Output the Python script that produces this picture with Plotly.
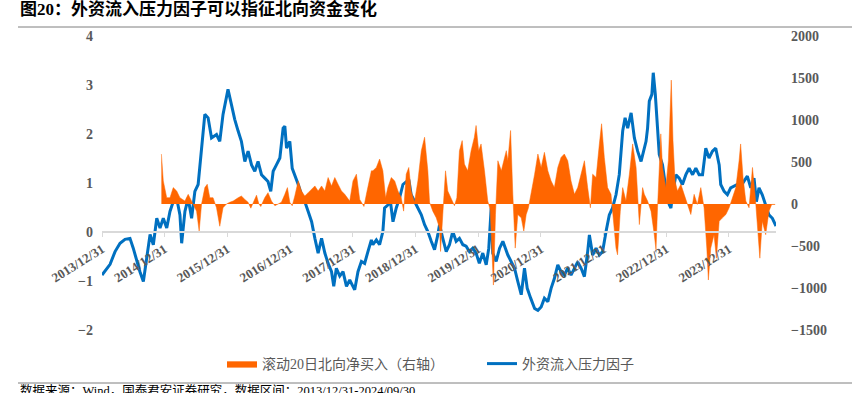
import plotly.graph_objects as go

# ---------------- data ----------------
factor_dates = [
    "2013-12-31", "2014-01-08", "2014-02-16", "2014-03-17", "2014-04-15", "2014-05-14", "2014-06-12", "2014-07-01", "2014-07-21", "2014-08-09", "2014-08-29", "2014-09-17", "2014-10-07", "2014-10-26", "2014-11-15", "2014-12-04", "2014-12-23",
    "2015-01-12", "2015-01-31", "2015-02-19", "2015-03-11", "2015-03-30", "2015-04-09", "2015-04-28", "2015-05-17", "2015-06-06", "2015-06-25", "2015-07-14", "2015-08-03", "2015-08-22", "2015-09-10", "2015-09-30", "2015-10-29", "2015-11-17", "2015-12-06", "2015-12-26",
    "2016-01-04", "2016-01-24", "2016-02-12", "2016-03-03", "2016-03-22", "2016-04-11", "2016-04-30", "2016-05-20", "2016-06-08", "2016-06-27", "2016-07-17", "2016-08-05", "2016-08-24", "2016-09-09", "2016-09-23", "2016-10-12", "2016-11-01", "2016-11-20", "2016-11-30", "2016-12-10", "2016-12-29",
    "2017-01-12", "2017-01-27", "2017-02-16", "2017-03-07", "2017-03-26", "2017-04-15", "2017-05-05", "2017-05-24", "2017-06-12", "2017-07-02", "2017-07-21", "2017-08-09", "2017-08-29", "2017-09-11", "2017-09-26", "2017-10-16", "2017-11-04", "2017-11-24", "2017-12-13",
    "2018-01-11", "2018-01-30", "2018-02-19", "2018-03-10", "2018-03-29", "2018-04-18", "2018-04-27", "2018-05-17", "2018-06-05", "2018-06-24", "2018-07-04", "2018-07-23", "2018-08-02", "2018-08-22", "2018-09-10", "2018-09-29", "2018-10-19", "2018-11-07", "2018-11-22", "2018-12-06", "2018-12-25",
    "2019-01-14", "2019-02-03", "2019-02-22", "2019-03-13", "2019-04-02", "2019-04-21", "2019-05-10", "2019-05-20", "2019-06-08", "2019-06-28", "2019-07-17", "2019-08-05", "2019-08-25", "2019-09-13", "2019-10-03", "2019-10-22", "2019-11-10", "2019-11-30", "2019-12-19",
    "2020-01-07", "2020-01-27", "2020-02-16", "2020-03-02", "2020-03-16", "2020-03-25", "2020-04-14", "2020-05-04", "2020-05-23", "2020-06-21", "2020-07-11", "2020-07-30", "2020-08-18", "2020-09-07", "2020-09-26", "2020-10-12", "2020-11-01", "2020-11-24", "2020-12-13",
    "2021-01-01", "2021-01-20", "2021-02-09", "2021-02-28", "2021-03-19", "2021-04-08", "2021-04-27", "2021-05-16", "2021-06-05", "2021-06-24", "2021-07-14", "2021-08-02", "2021-08-22", "2021-09-10", "2021-09-29", "2021-10-09", "2021-10-28", "2021-11-17", "2021-12-06", "2021-12-25",
    "2022-01-14", "2022-02-02", "2022-02-21", "2022-03-13", "2022-04-01", "2022-04-21", "2022-05-05", "2022-05-20", "2022-06-09", "2022-06-28", "2022-07-17", "2022-08-06", "2022-09-04", "2022-09-13", "2022-09-23", "2022-10-08", "2022-10-16", "2022-10-28", "2022-11-10", "2022-11-20", "2022-12-09", "2022-12-28",
    "2023-01-17", "2023-01-27", "2023-02-05", "2023-02-25", "2023-03-16", "2023-04-04", "2023-04-24", "2023-05-13", "2023-06-02", "2023-06-21", "2023-07-10", "2023-07-30", "2023-08-18", "2023-09-06", "2023-09-26", "2023-10-15", "2023-11-04", "2023-11-13", "2023-12-03", "2023-12-22",
    "2024-01-10", "2024-01-30", "2024-02-18", "2024-03-08", "2024-03-28", "2024-04-16", "2024-05-06", "2024-05-25", "2024-06-08", "2024-06-23", "2024-07-12", "2024-08-01", "2024-08-20", "2024-09-09", "2024-09-30",
]
factor_values = [
    -0.88, -0.84, -0.66, -0.40, -0.23, -0.15, -0.13, -0.33, -0.60, -0.81, -1.01, -0.54, -0.05, -0.26, 0.28, 0.08, 0.28,
    0.08, 0.42, 0.62, 0.69, 0.35, -0.23, 0.42, 0.69, 0.28, 0.83, 0.97, 1.65, 2.40, 2.33, 1.92, 1.99, 1.85, 2.40, 2.74,
    2.91, 2.60, 2.30, 2.06, 1.85, 1.44, 1.65, 1.37, 1.24, 1.44, 1.17, 1.10, 1.03, 0.83, 1.24, 1.37, 1.51, 2.12, 2.16, 1.71, 1.85,
    1.30, 1.17, 0.97, 0.76, 0.62, 0.42, 0.21, -0.13, -0.43, -0.13, -0.43, -0.64, -0.81, -1.11, -0.74, -0.90, -0.81, -1.11, -0.98,
    -1.18, -0.81, -0.60, -0.64, -0.40, -0.16, -0.26, -0.16, -0.26, 0.01, 0.49, 0.55, 0.76, 0.21, 0.49, 0.69, 0.97, 1.03, 1.07, 0.76, 0.62,
    0.49, 0.35, 0.15, 0.01, -0.19, -0.36, -0.06, 0.15, -0.13, -0.40, -0.26, 0.01, -0.19, -0.13, -0.26, -0.29, -0.40, -0.33, -0.43,
    -0.64, -0.43, -0.67, -0.33, 0.49, -0.43, -0.60, -0.33, -0.19, -0.47, -0.61, -0.74, -1.01, -1.28, -0.74, -1.15, -1.35, -1.56, -1.60,
    -1.53, -1.35, -1.42, -1.15, -0.95, -0.67, -0.81, -0.88, -0.74, -0.88, -0.74, -0.61, -0.74, -0.91, -0.40, -0.06, -0.47, -0.33, -0.47, -0.40,
    0.01, 0.35, 0.49, 0.76, 1.17, 2.06, 2.33, 2.12, 2.43, 1.92, 1.65, 1.44, 1.85, 2.12, 2.67, 2.81, 3.25, 2.81, 2.12, 1.58, 1.37, 0.90,
    0.56, 0.49, 0.76, 1.17, 1.10, 0.97, 1.17, 1.30, 1.17, 1.30, 1.17, 1.17, 1.71, 1.51, 1.65, 1.71, 1.37, 0.97, 0.83, 0.76,
    0.90, 0.93, 0.97, 0.93, 1.03, 1.14, 0.90, 1.10, 0.62, 0.90, 0.76, 0.56, 0.35, 0.28, 0.12,
]

northbound_dates = [
    "2014-12-12", "2014-12-23",
    "2015-01-12", "2015-01-31", "2015-02-19", "2015-03-11", "2015-03-30", "2015-04-28", "2015-05-17", "2015-06-06", "2015-07-05", "2015-07-20", "2015-08-03", "2015-08-22", "2015-09-05", "2015-09-20", "2015-10-09", "2015-10-29", "2015-11-17", "2015-12-06", "2015-12-26",
    "2016-01-14", "2016-02-03", "2016-03-03", "2016-03-22", "2016-04-11", "2016-04-30", "2016-05-16", "2016-05-30", "2016-06-18", "2016-07-02", "2016-07-13", "2016-08-05", "2016-08-24", "2016-09-13", "2016-10-03", "2016-10-22", "2016-11-10", "2016-11-30", "2016-12-15", "2016-12-29",
    "2017-01-12", "2017-01-27", "2017-02-16", "2017-03-07", "2017-03-26", "2017-04-15", "2017-05-24", "2017-06-12", "2017-07-02", "2017-07-21", "2017-08-09", "2017-08-29", "2017-09-17", "2017-10-06", "2017-10-26", "2017-11-14", "2017-12-13",
    "2018-01-01", "2018-01-21", "2018-02-09", "2018-03-06", "2018-03-20", "2018-04-18", "2018-04-27", "2018-05-17", "2018-06-05", "2018-06-24", "2018-07-10", "2018-07-23", "2018-08-12", "2018-09-01", "2018-09-20", "2018-10-09", "2018-10-23", "2018-11-07", "2018-11-22", "2018-12-06", "2018-12-25",
    "2019-01-14", "2019-02-03", "2019-02-22", "2019-03-13", "2019-03-23", "2019-04-11", "2019-05-01", "2019-05-20", "2019-05-26", "2019-06-08", "2019-06-24", "2019-07-07", "2019-07-27", "2019-08-15", "2019-08-29", "2019-09-13", "2019-09-29", "2019-10-12", "2019-10-31", "2019-11-20", "2019-12-09", "2019-12-19",
    "2020-01-03", "2020-01-17", "2020-02-06", "2020-02-25", "2020-03-10", "2020-03-22", "2020-03-29", "2020-04-10", "2020-04-24", "2020-05-14", "2020-06-12", "2020-06-21", "2020-07-07", "2020-07-20", "2020-08-03", "2020-08-18", "2020-09-07", "2020-09-22", "2020-10-06", "2020-10-19", "2020-11-04", "2020-11-24", "2020-12-13",
    "2021-01-01", "2021-01-20", "2021-02-09", "2021-02-28", "2021-03-19", "2021-04-08", "2021-04-27", "2021-05-16", "2021-06-05", "2021-06-24", "2021-07-14", "2021-08-02", "2021-08-22", "2021-09-10", "2021-09-29", "2021-10-15", "2021-10-28", "2021-11-17", "2021-12-06", "2021-12-19",
    "2022-01-04", "2022-01-23", "2022-02-12", "2022-02-27", "2022-03-13", "2022-03-22", "2022-04-07", "2022-04-21", "2022-05-10", "2022-05-30", "2022-06-18", "2022-07-08", "2022-07-27", "2022-08-15", "2022-08-25", "2022-09-13", "2022-10-03", "2022-10-22", "2022-11-01", "2022-11-10", "2022-11-20", "2022-11-29", "2022-12-09", "2022-12-28",
    "2023-01-12", "2023-01-22", "2023-01-29", "2023-02-08", "2023-02-20", "2023-03-06", "2023-03-26", "2023-04-14", "2023-05-03", "2023-05-23", "2023-06-11", "2023-06-30", "2023-07-20", "2023-08-08", "2023-08-24", "2023-09-02", "2023-09-16", "2023-10-05", "2023-10-19", "2023-11-04", "2023-11-23", "2023-12-13",
    "2024-01-01", "2024-01-20", "2024-02-09", "2024-02-28", "2024-03-08", "2024-03-22", "2024-04-07", "2024-04-26", "2024-05-16", "2024-05-31", "2024-06-14", "2024-06-28", "2024-07-12", "2024-08-01", "2024-08-20", "2024-09-05", "2024-09-25",
]
northbound_values = [
    595, 275,
    75, 75, 195, 155, 75, 35, 115, 35, -85, -325, 0, 195, 235, 75, 75, -45, -265, -45, 0,
    20, 35, 75, 95, 55, 20, -50, 20, 105, 0, -30, 75, 135, 35, -20, 0, 20, 115, 195, 20,
    -20, 95, 275, 155, 95, 135, 215, 155, 215, 155, 315, 215, 315, 235, 155, 115, 35,
    275, 355, 55, -30, 115, 395, 395, 435, 535, 395, 75, 195, 315, 275, 155, 75, -85, 355, 435, 155, 20,
    275, 635, 795, 395, 20, -85, -165, -285, -565, -125, 395, 155, 75, -20, 75, 635, 755, 475, 395, 635, 795, 935,
    635, 715, 395, 35, -65, -645, -965, -125, 515, 395, 635, 515, 875, 115, -525, -125, -165, -325, -125, -45, 115, 355, 595,
    435, 615, 395, 275, 195, 435, 555, 595, 515, 275, 115, 195, 355, 515, 195, -45, 355, 315, 715, 955,
    555, 195, 115, -205, -525, -605, -85, 195, 35, 355, 715, 435, -245, 195, 115, 35, -85, -365, -545, -45, 395, 835, 435, 195,
    515, 1075, 1475, 755, 275, 155, 235, 115, -5, -125, 115, -5, 195, -45, -525, -905, -525, -365, -645, -205, -165, -125,
    -45, 75, 195, 515, 715, 315, 35, -45, 435, 115, -285, -645, -205, -365, -85, -5, -5,
]

tick_dates = ["2013-12-31", "2014-12-31", "2015-12-31", "2016-12-31", "2017-12-31", "2018-12-31",
              "2019-12-31", "2020-12-31", "2021-12-31", "2022-12-31", "2023-12-31"]
tick_labels = ["2013/12/31", "2014/12/31", "2015/12/31", "2016/12/31", "2017/12/31", "2018/12/31",
               "2019/12/31", "2020/12/31", "2021/12/31", "2022/12/31", "2023/12/31"]

series_names = ["滚动20日北向净买入（右轴）", "外资流入压力因子"]
title_text = "图20：外资流入压力因子可以指征北向资金变化"
source_text = "数据来源：Wind，国泰君安证券研究，数据区间：2013/12/31-2024/09/30"

# ---------------- figure ----------------
W, H = 857, 393
ML, MR, MT, MB = 102, 81, 36, 63
PW, PH = W - ML - MR, H - MT - MB


def px(xp):
    return (xp - ML) / PW


def py(yp):
    return (H - MB - yp) / PH


ORANGE = "#FF6600"
BLUE = "#0070C0"
GREY = "#595959"
SERIF = "Liberation Serif, Noto Sans CJK SC"
CJK = "Liberation Serif, Noto Sans CJK SC"

fig = go.Figure()
fig.add_trace(go.Scatter(
    x=northbound_dates, y=northbound_values, yaxis="y2", name=series_names[0],
    mode="lines", line=dict(color=ORANGE, width=0.5), fill="tozeroy", fillcolor=ORANGE,
))
fig.add_trace(go.Scatter(
    x=factor_dates, y=factor_values, yaxis="y", name=series_names[1],
    mode="lines", line=dict(color=BLUE, width=3),
))

tick_font = dict(family=SERIF, size=14, color=GREY, weight="bold")

fig.update_layout(
    width=W, height=H,
    margin=dict(l=ML, r=MR, t=MT, b=MB, autoexpand=False),
    paper_bgcolor="white", plot_bgcolor="white",
    showlegend=True,
    xaxis=dict(
        type="date", range=["2013-12-31", "2024-09-30"],
        tickmode="array", tickvals=tick_dates, ticktext=tick_labels,
        tickangle=-32, tickfont=dict(family=SERIF, size=13, color=GREY, weight="bold"),
        anchor="free", position=1 / 3,
        showline=True, linecolor="#D9D9D9", linewidth=1.5,
        ticks="outside", ticklen=4, tickcolor="#D9D9D9", tickwidth=1,
        showgrid=False, zeroline=False,
    ),
    yaxis=dict(
        range=[-2, 4], dtick=1, tick0=0, tickfont=tick_font,
        showgrid=False, zeroline=False, showline=False, ticks="",
        ticklabelstandoff=8,
    ),
    yaxis2=dict(
        range=[-1500, 2000], dtick=500, tick0=0, tickfont=tick_font,
        overlaying="y", side="right",
        showgrid=False, zeroline=False, showline=False, ticks="",
        ticklabelstandoff=14,
    ),
    legend=dict(
        orientation="h", x=px(222), y=py(348), xanchor="left", yanchor="top",
        font=dict(family=CJK, size=14, color=GREY),
        entrywidth=215, entrywidthmode="pixels",
        bgcolor="rgba(0,0,0,0)",
    ),
)

fig.add_annotation(
    text=title_text, xref="paper", yref="paper", x=px(18), y=py(9),
    xanchor="left", yanchor="middle", showarrow=False,
    font=dict(family=CJK, size=17, color="black", weight="bold"),
)
fig.add_shape(type="line", xref="paper", yref="paper", x0=px(18), x1=px(852),
              y0=py(27), y1=py(27), line=dict(color="#7F7F7F", width=1))
fig.add_shape(type="line", xref="paper", yref="paper", x0=px(18), x1=px(852),
              y0=py(383), y1=py(383), line=dict(color="#7F7F7F", width=1))
fig.add_annotation(
    text=source_text, xref="paper", yref="paper", x=px(18), y=py(391),
    xanchor="left", yanchor="middle", showarrow=False,
    font=dict(family=CJK, size=12.5, color="black"),
)

fig.write_html("out.html", config={"displayModeBar": False},
               post_script="document.body.style.margin='0px';")
